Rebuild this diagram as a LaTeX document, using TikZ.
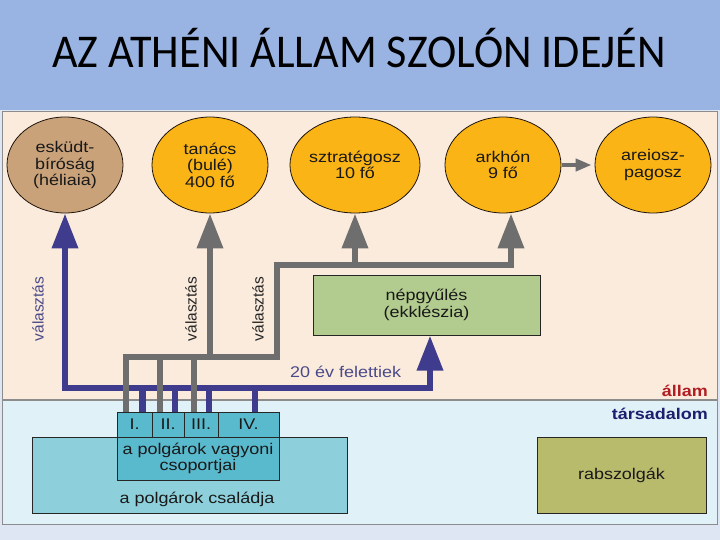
\documentclass[tikz,border=0pt]{standalone}
\usepackage{fontspec}
\setmainfont{Liberation Sans}[FakeStretch=1.16]
\newfontfamily\rotfont{Liberation Sans}
\newfontfamily\titlefont{Carlito}[FakeStretch=0.94]
\usetikzlibrary{arrows.meta,shapes.geometric}
\newcommand\dtxt{\fontsize{15.5}{16.5}\selectfont}
\newcommand\rtxt{\rotfont\fontsize{15.5}{16.5}\selectfont}
\definecolor{titleblue}{HTML}{99B4E3}
\definecolor{lavender}{HTML}{DEE5F3}
\definecolor{peach}{HTML}{FBEBDC}
\definecolor{lowblue}{HTML}{E0F1F7}
\definecolor{orng}{HTML}{FBB416}
\definecolor{brownc}{HTML}{C9A27A}
\definecolor{greenc}{HTML}{B2CB8E}
\definecolor{olivec}{HTML}{B8BA6C}
\definecolor{famc}{HTML}{8DD0DC}
\definecolor{vagc}{HTML}{59B9CD}
\definecolor{bluel}{HTML}{3F3C8E}
\definecolor{greyl}{HTML}{6E6E6E}
\definecolor{redt}{HTML}{B01E23}
\definecolor{navyt}{HTML}{1E1E6E}
\definecolor{bluet}{HTML}{4A4A8A}
\definecolor{framec}{HTML}{8C8C8C}
\tikzset{
  ell/.style={ellipse, draw=black!85!brown, line width=0.8pt, minimum width=116pt,
    minimum height=96pt, inner sep=0pt, align=center, font=\dtxt, text=black!90},
  box/.style={rectangle, draw=black!85, line width=1pt, inner sep=0pt, align=center,
    font=\dtxt, text=black!90},
  bigtip/.style={-{Triangle[length=35pt,width=25pt]}},
  blueline/.style={draw=bluel, line width=6.5pt},
  greyline/.style={draw=greyl, line width=6.5pt},
  vlabel/.style={rotate=90, font=\rtxt, inner sep=0pt}
}
\begin{document}
\begin{tikzpicture}[x=1pt,y=-1pt]
\useasboundingbox (0,0) rectangle (720,540);
% backgrounds
\fill[lavender] (0,0) rectangle (720,540);
\fill[titleblue] (0,0) rectangle (720,110);
\fill[peach] (2,111) rectangle (717,400);
\fill[lowblue] (2,400) rectangle (717,524);
\draw[framec, line width=0.8pt] (2,111) rectangle (717,524);
\draw[framec, line width=1.5pt] (2,400) -- (717,400);
% title
\node[anchor=base, font=\titlefont\fontsize{47}{52}\selectfont, inner sep=0pt] (title) at (359,68) {AZ ATHÉNI ÁLLAM SZOLÓN IDEJÉN};
% ellipses
\node[ell, fill=brownc] (esk) at (65,165) {esküdt-\\bíróság\\(héliaia)};
\node[ell, fill=orng] (tan) at (210,165) {tanács\\(bulé)\\400 fő};
\node[ell, fill=orng] (szt) at (355,165) {sztratégosz\\10 fő};
\node[ell, fill=orng] (ark) at (503,165) {arkhón\\9 fő};
\node[ell, fill=orng] (are) at (653,165) {areiosz-\\pagosz};
% boxes
\node[box, fill=greenc, minimum width=227pt, minimum height=60pt] (nep) at (426.5,305) {népgyűlés\\(ekklészia)};
\node[box, fill=famc, minimum width=315pt, minimum height=76pt] (csal) at (189.5,475) {};
\node[font=\dtxt, text=black!90, inner sep=0pt] (csaltxt) at (197,499) {a polgárok családja};
\node[box, fill=vagc, minimum width=162pt, minimum height=43pt] (vag) at (198,458.5) {a polgárok vagyoni\\csoportjai};
\node[box, fill=vagc, minimum width=35pt, minimum height=25pt] (b1) at (134.5,424.5) {I.};
\node[box, fill=vagc, minimum width=32pt, minimum height=25pt] (b2) at (168,424.5) {II.};
\node[box, fill=vagc, minimum width=34pt, minimum height=25pt] (b3) at (201,424.5) {III.};
\node[box, fill=vagc, minimum width=61pt, minimum height=25pt] (b4) at (248.5,424.5) {IV.};
\node[box, fill=olivec, minimum width=169pt, minimum height=76pt] (rab) at (621.5,475) {rabszolgák};
% side labels
\node[anchor=east, font=\dtxt\bfseries, text=redt, inner sep=0pt] (allam) at (708,391) {állam};
\node[anchor=east, font=\dtxt\bfseries, text=navyt, inner sep=0pt] (tars) at (708,414) {társadalom};
\node[anchor=west, font=\dtxt, text=bluet, inner sep=0pt] (ev) at (290,372) {20 év felettiek};
\node[vlabel, text=bluet] (v1) at (38,309) {választás};
\node[vlabel, text=black!85] (v2) at (191,309) {választás};
\node[vlabel, text=black!85] (v3) at (258,309) {választás};
% coordinates for buses
\coordinate (bbus) at (0,388);
\coordinate (gbus) at (0,357);
\coordinate (gtop) at (0,265);
\coordinate (gturn) at (277,357);
% blue network
\draw[blueline, {Triangle[length=35pt,width=25pt]}-{Triangle[length=35pt,width=25pt]}]
  (esk.south) -- (esk.south |- bbus) -- ([xshift=3.5pt]nep.south |- bbus) -- ([xshift=3.5pt]nep.south);
\foreach \b/\dx in {b1/8,b2/7,b3/8,b4/6.5}
  \draw[blueline] ([xshift=\dx pt]\b.north) -- ([xshift=\dx pt]\b.north |- bbus);
% grey network
\draw[greyline, bigtip] ([xshift=-8.5pt]b1.north) -- ([xshift=-8.5pt]b1.north |- gbus) -- (gturn)
  -- (gturn |- gtop) -- ([xshift=8pt]ark.south |- gtop) -- ([xshift=8pt]ark.south);
\draw[greyline] ([xshift=-8pt]b2.north) -- ([xshift=-8pt]b2.north |- gbus);
\draw[greyline] ([xshift=-7pt]b3.north) -- ([xshift=-7pt]b3.north |- gbus);
\draw[greyline, bigtip] (tan.south |- gbus) -- (tan.south);
\draw[greyline, bigtip] (szt.south |- gtop) -- (szt.south);
\draw[draw=greyl, line width=4pt, -{Triangle[length=16pt,width=12pt]}, shorten <=1pt, shorten >=3pt] (ark.east) -- (are.west);
\end{tikzpicture}
\end{document}
